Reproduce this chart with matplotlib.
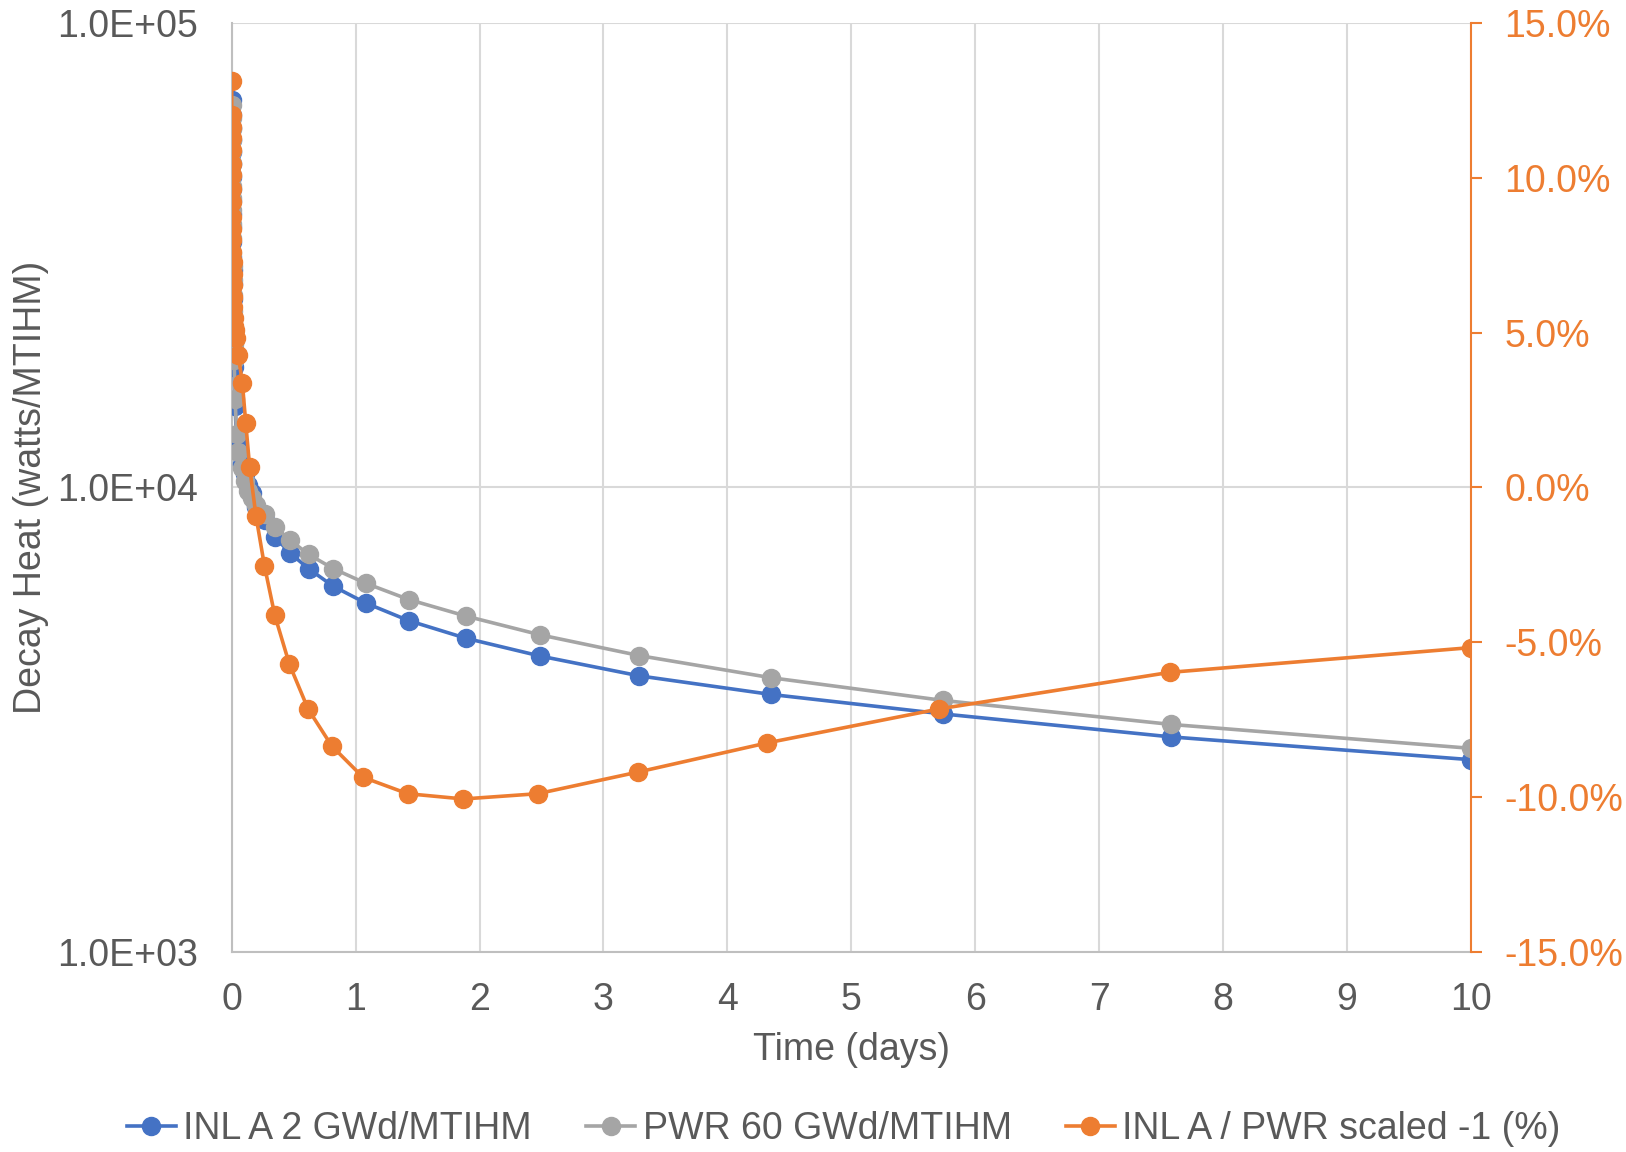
import numpy as np
import matplotlib
matplotlib.use("Agg")
import matplotlib.pyplot as plt
from matplotlib.ticker import FuncFormatter, FixedLocator, NullLocator

# tiempos (dias) para las curvas de calor residual
t_heat = [0.00001, 0.0001, 0.0002, 0.0003, 0.0005, 0.0007, 0.001, 0.0014, 0.002, 0.0028,
          0.0035, 0.0045, 0.0055, 0.0065, 0.0078, 0.0092, 0.011, 0.013, 0.016, 0.02,
          0.027, 0.04, 0.054, 0.08, 0.107, 0.135, 0.16, 0.2, 0.27, 0.35,
          0.47, 0.62, 0.82, 1.08, 1.43, 1.89, 2.49, 3.29, 4.35, 5.74, 7.58, 10.0]

inl_a = [68200, 63500, 59500, 56000, 52800, 49600, 46600, 44000, 41300, 38800,
         36300, 33800, 31400, 29400, 27400, 25400, 23400, 21600, 19800, 18200,
         15000, 12600, 12000, 11200, 10700, 10100, 9700, 9050, 8490, 7810,
         7220, 6680, 6120, 5635, 5160, 4730, 4330, 3925, 3580, 3250, 2900, 2590]

pwr_60 = [66500, 62500, 59000, 56000, 53000, 50000, 47000, 44500, 42000, 39500,
          37000, 34500, 32000, 30000, 28000, 26000, 24000, 22200, 20400, 18800,
          15500, 13000, 11900, 11000, 10300, 9800, 9500, 9150, 8770, 8210,
          7700, 7170, 6680, 6215, 5730, 5280, 4810, 4340, 3890, 3475, 3085, 2740]

# ratio INL A / PWR escalado -1 (%)
t_ratio = [0.00001, 0.0001, 0.0002, 0.0003, 0.0005, 0.0007, 0.001, 0.0014, 0.002, 0.0028,
           0.0035, 0.0045, 0.0055, 0.0065, 0.0078, 0.0092, 0.011, 0.013, 0.016, 0.02,
           0.025, 0.035, 0.053, 0.086, 0.113, 0.145, 0.196, 0.264, 0.348, 0.465,
           0.616, 0.808, 1.06, 1.42, 1.87, 2.47, 3.28, 4.32, 5.71, 7.57, 10.0]

ratio_pct = [13.13, 12.02, 11.64, 11.27, 10.89, 10.46, 10.08, 9.65, 9.22, 8.73,
             8.36, 7.98, 7.60, 7.28, 6.90, 6.52, 6.15, 5.82, 5.46, 5.20,
             5.08, 4.81, 4.26, 3.38, 2.09, 0.65, -0.93, -2.53, -4.14, -5.71,
             -7.16, -8.36, -9.37, -9.90, -10.07, -9.90, -9.20, -8.26, -7.16, -5.98, -5.18]

labels = ["INL A 2 GWd/MTIHM", "PWR 60 GWd/MTIHM", "INL A / PWR scaled -1 (%)"]

azul = "#4472C4"
gris = "#A5A5A5"
naranja = "#ED7D31"
texto = "#595959"

plt.rcParams["font.family"] = ["Liberation Sans", "DejaVu Sans"]
fs = 27
lw = 2.6
ms = 13

fig = plt.figure(figsize=(16.26, 11.52), dpi=100)
ax = fig.add_axes([0.1425, 0.174, 0.762, 0.806])

ax.plot(t_heat, inl_a, color=azul, lw=lw, marker="o", ms=ms, label=labels[0], zorder=3)
ax.plot(t_heat, pwr_60, color=gris, lw=lw, marker="o", ms=ms, label=labels[1], zorder=4)
ax.set_yscale("log")
ax.set_ylim(1e3, 1e5)
ax.set_xlim(0, 10)
ax.yaxis.set_major_locator(FixedLocator([1e3, 1e4, 1e5]))
ax.yaxis.set_minor_locator(NullLocator())
ax.yaxis.set_major_formatter(FuncFormatter(lambda v, p: "%.1fE+%02d" % (1.0, int(round(np.log10(v))))))
ax.set_xticks(range(0, 11))
ax.grid(True, color="#D9D9D9", lw=1.5)
ax.set_axisbelow(True)

for s in ["top", "right"]:
    ax.spines[s].set_visible(False)
ax.spines["left"].set_color("#BFBFBF")
ax.spines["bottom"].set_color("#BFBFBF")
ax.spines["left"].set_linewidth(1.5)
ax.spines["bottom"].set_linewidth(1.5)
ax.tick_params(axis="y", length=0, pad=24, labelsize=fs, labelcolor=texto)
ax.tick_params(axis="x", length=0, pad=22, labelsize=fs, labelcolor=texto)
ax.set_xlabel("Time (days)", fontsize=fs, color=texto, labelpad=10)
ax.set_ylabel("Decay Heat (watts/MTIHM)", fontsize=fs, color=texto)
ax.yaxis.set_label_coords(-0.1475, 0.5)

ax2 = ax.twinx()
ax2.plot(t_ratio, ratio_pct, color=naranja, lw=lw, marker="o", ms=ms, label=labels[2], zorder=5)
ax2.set_ylim(-15, 15)
ax2.set_yticks([-15, -10, -5, 0, 5, 10, 15])
ax2.yaxis.set_major_formatter(FuncFormatter(lambda v, p: "%.1f%%" % v))
for s in ["top", "left", "bottom"]:
    ax2.spines[s].set_visible(False)
ax2.spines["right"].set_color(naranja)
ax2.spines["right"].set_linewidth(1.5)
ax2.tick_params(axis="y", direction="out", length=8, width=1.5, color=naranja,
                pad=16, labelsize=fs, labelcolor=naranja)

h1, l1 = ax.get_legend_handles_labels()
h2, l2 = ax2.get_legend_handles_labels()
leg = fig.legend(h1 + h2, l1 + l2, loc="center", bbox_to_anchor=(0.519, 0.02), ncol=3,
                 frameon=False, fontsize=fs, handlelength=1.3, handletextpad=0.2,
                 columnspacing=1.45, labelcolor=texto)

plt.savefig("out.png", dpi=100)
